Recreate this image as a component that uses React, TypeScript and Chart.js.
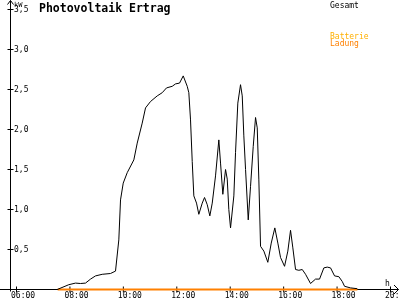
import React, { useEffect, useRef } from "react";
import { Chart, registerables } from "chart.js";

Chart.register(...registerables);

// Time of day in hours and total power (kW)
const gesamtHours = [
  7.524, 7.958, 8.209, 8.396, 8.583, 8.771, 8.958, 9.209, 9.519, 9.706, 9.83, 9.894, 9.995,
  10.144, 10.392, 10.519, 10.706, 10.83, 11.017, 11.268, 11.455, 11.616, 11.829, 11.953,
  12.103, 12.241, 12.391, 12.451, 12.514, 12.578, 12.638, 12.739, 12.825, 12.953, 13.039,
  13.14, 13.237, 13.327, 13.45, 13.574, 13.638, 13.724, 13.825, 13.889, 13.948, 14.012,
  14.136, 14.199, 14.285, 14.386, 14.45, 14.51, 14.574, 14.675, 14.761, 14.862, 14.948,
  15.012, 15.072, 15.135, 15.259, 15.408, 15.536, 15.67, 15.783, 15.884, 16.034, 16.157,
  16.258, 16.345, 16.446, 16.569, 16.696, 16.82, 17.007, 17.194, 17.344, 17.505, 17.632,
  17.756, 17.906, 18.067, 18.194, 18.28, 18.505, 18.756,
];
const gesamtKW = [
  0, 0.06, 0.08, 0.075, 0.08, 0.13, 0.17, 0.19, 0.2, 0.23, 0.62, 1.12, 1.33,
  1.46, 1.62, 1.83, 2.08, 2.27, 2.35, 2.42, 2.46, 2.52, 2.54, 2.57,
  2.58, 2.67, 2.54, 2.46, 2.12, 1.6, 1.17, 1.08, 0.94, 1.08, 1.15,
  1.06, 0.92, 1.08, 1.42, 1.87, 1.58, 1.19, 1.5, 1.38, 1.0, 0.77,
  1.17, 1.71, 2.33, 2.56, 2.42, 1.92, 1.5, 0.87, 1.29, 1.79, 2.15,
  2.02, 1.37, 0.54, 0.48, 0.34, 0.58, 0.77, 0.58, 0.4, 0.29, 0.48,
  0.74, 0.52, 0.25, 0.24, 0.25, 0.19, 0.075, 0.13, 0.13, 0.27, 0.28,
  0.27, 0.17, 0.16, 0.1, 0.04, 0.02, 0.01,
];
const ladungHours = [7.54, 18.76];
const ladungKW = [0, 0];

const yTicks = [0.5, 1, 1.5, 2, 2.5, 3, 3.5];
const yTickLabels = ["0,5", "1,0", "1,5", "2,0", "2,5", "3,0", "3,5"];
const xTicks = [6, 8, 10, 12, 14, 16, 18, 20];
const xTickLabels = ["06:00", "08:00", "10:00", "12:00", "14:00", "16:00", "18:00", "20:00"];

const title = "Photovoltaik Ertrag";
const legendItems = ["Gesamt", "Batterie", "Ladung"];
const legendColors = ["#000000", "#FFB000", "#FF8000"];

const PX_PER_H = 374 / 14;
const PX_PER_KW = 80;

export default function App() {
  const ref = useRef<HTMLCanvasElement | null>(null);

  useEffect(() => {
    document.body.style.margin = "0";
    const canvas = ref.current;
    if (!canvas) return;

    const axesPlugin = {
      id: "customAxes",
      beforeDatasetsDraw(chart: any) {
        const ctx = chart.ctx;
        const xs = chart.scales.x;
        const ys = chart.scales.y;
        const x0 = Math.round(xs.getPixelForValue(xs.min + 10 / PX_PER_H)) ;
        const ax = 10.5;
        const ay = ys.getPixelForValue(0);
        ctx.save();
        ctx.strokeStyle = "#000";
        ctx.lineWidth = 1;
        ctx.beginPath();
        // x axis
        ctx.moveTo(0, ay);
        ctx.lineTo(398.5, ay);
        ctx.moveTo(394, ay - 4.5);
        ctx.lineTo(398.5, ay);
        ctx.lineTo(394, ay + 4.5);
        // y axis
        ctx.moveTo(ax, ay + 2);
        ctx.lineTo(ax, 0.5);
        ctx.moveTo(ax - 3, 4.5);
        ctx.lineTo(ax, 0.5);
        ctx.lineTo(ax + 3, 4.5);
        ctx.stroke();
        // y ticks
        ctx.beginPath();
        yTicks.forEach((v) => {
          const py = ys.getPixelForValue(v);
          ctx.moveTo(ax - 3, py);
          ctx.lineTo(ax + 3, py);
        });
        xTicks.forEach((v) => {
          const px = xs.getPixelForValue(v);
          ctx.moveTo(px, ay - 3);
          ctx.lineTo(px, ay + 3);
        });
        ctx.stroke();
        ctx.restore();
        void x0;
      },
      afterDraw(chart: any) {
        const ctx = chart.ctx;
        const xs = chart.scales.x;
        const ys = chart.scales.y;
        const ay = ys.getPixelForValue(0);
        ctx.save();
        ctx.fillStyle = "#000";
        ctx.font = "8px 'DejaVu Sans Mono'";
        ctx.textAlign = "left";
        ctx.textBaseline = "middle";
        yTicks.forEach((v, i) => {
          ctx.fillText(yTickLabels[i], 14, ys.getPixelForValue(v) + 0.5);
        });
        ctx.textBaseline = "top";
        xTicks.forEach((v, i) => {
          ctx.fillText(xTickLabels[i], xs.getPixelForValue(v) - 5.5, ay + 2.5);
        });
        ctx.textBaseline = "alphabetic";
        ctx.font = "7px 'DejaVu Sans Mono'";
        ctx.fillText("kW", 14, 7);
        ctx.font = "8px 'DejaVu Sans Mono'";
        ctx.fillText("h", 385, 286);
        // title
        ctx.font = "bold 11.5px 'DejaVu Sans Mono'";
        ctx.fillText(title, 39, 12);
        // legend
        ctx.font = "8px 'DejaVu Sans Mono'";
        const ly = [8, 39, 46];
        legendItems.forEach((t, i) => {
          ctx.fillStyle = legendColors[i];
          ctx.fillText(t, 330, ly[i]);
        });
        ctx.restore();
      },
    };

    const chart = new Chart(canvas, {
      type: "line",
      data: {
        datasets: [
          {
            label: "Gesamt",
            data: gesamtHours.map((h, i) => ({ x: h, y: gesamtKW[i] })),
            borderColor: "#000000",
            borderWidth: 1,
            pointRadius: 0,
            tension: 0,
            fill: false,
          },
          {
            label: "Ladung",
            data: ladungHours.map((h, i) => ({ x: h, y: ladungKW[i] })),
            borderColor: "#FF8000",
            borderWidth: 2,
            pointRadius: 0,
            tension: 0,
            fill: false,
          },
        ],
      },
      options: {
        responsive: false,
        animation: false,
        layout: { padding: 0 },
        scales: {
          x: {
            type: "linear",
            display: false,
            min: 6 - 16.5 / PX_PER_H,
            max: 6 + 383.5 / PX_PER_H,
          },
          y: {
            type: "linear",
            display: false,
            min: -10.5 / PX_PER_KW,
            max: 289.5 / PX_PER_KW,
          },
        },
        plugins: {
          legend: { display: false },
          tooltip: { enabled: false },
          title: { display: false },
        },
      },
      plugins: [axesPlugin],
    });

    return () => chart.destroy();
  }, []);

  return (
    <div style={{ width: 400, height: 300 }}>
      <canvas ref={ref} width={400} height={300} style={{ display: "block" }} />
    </div>
  );
}
